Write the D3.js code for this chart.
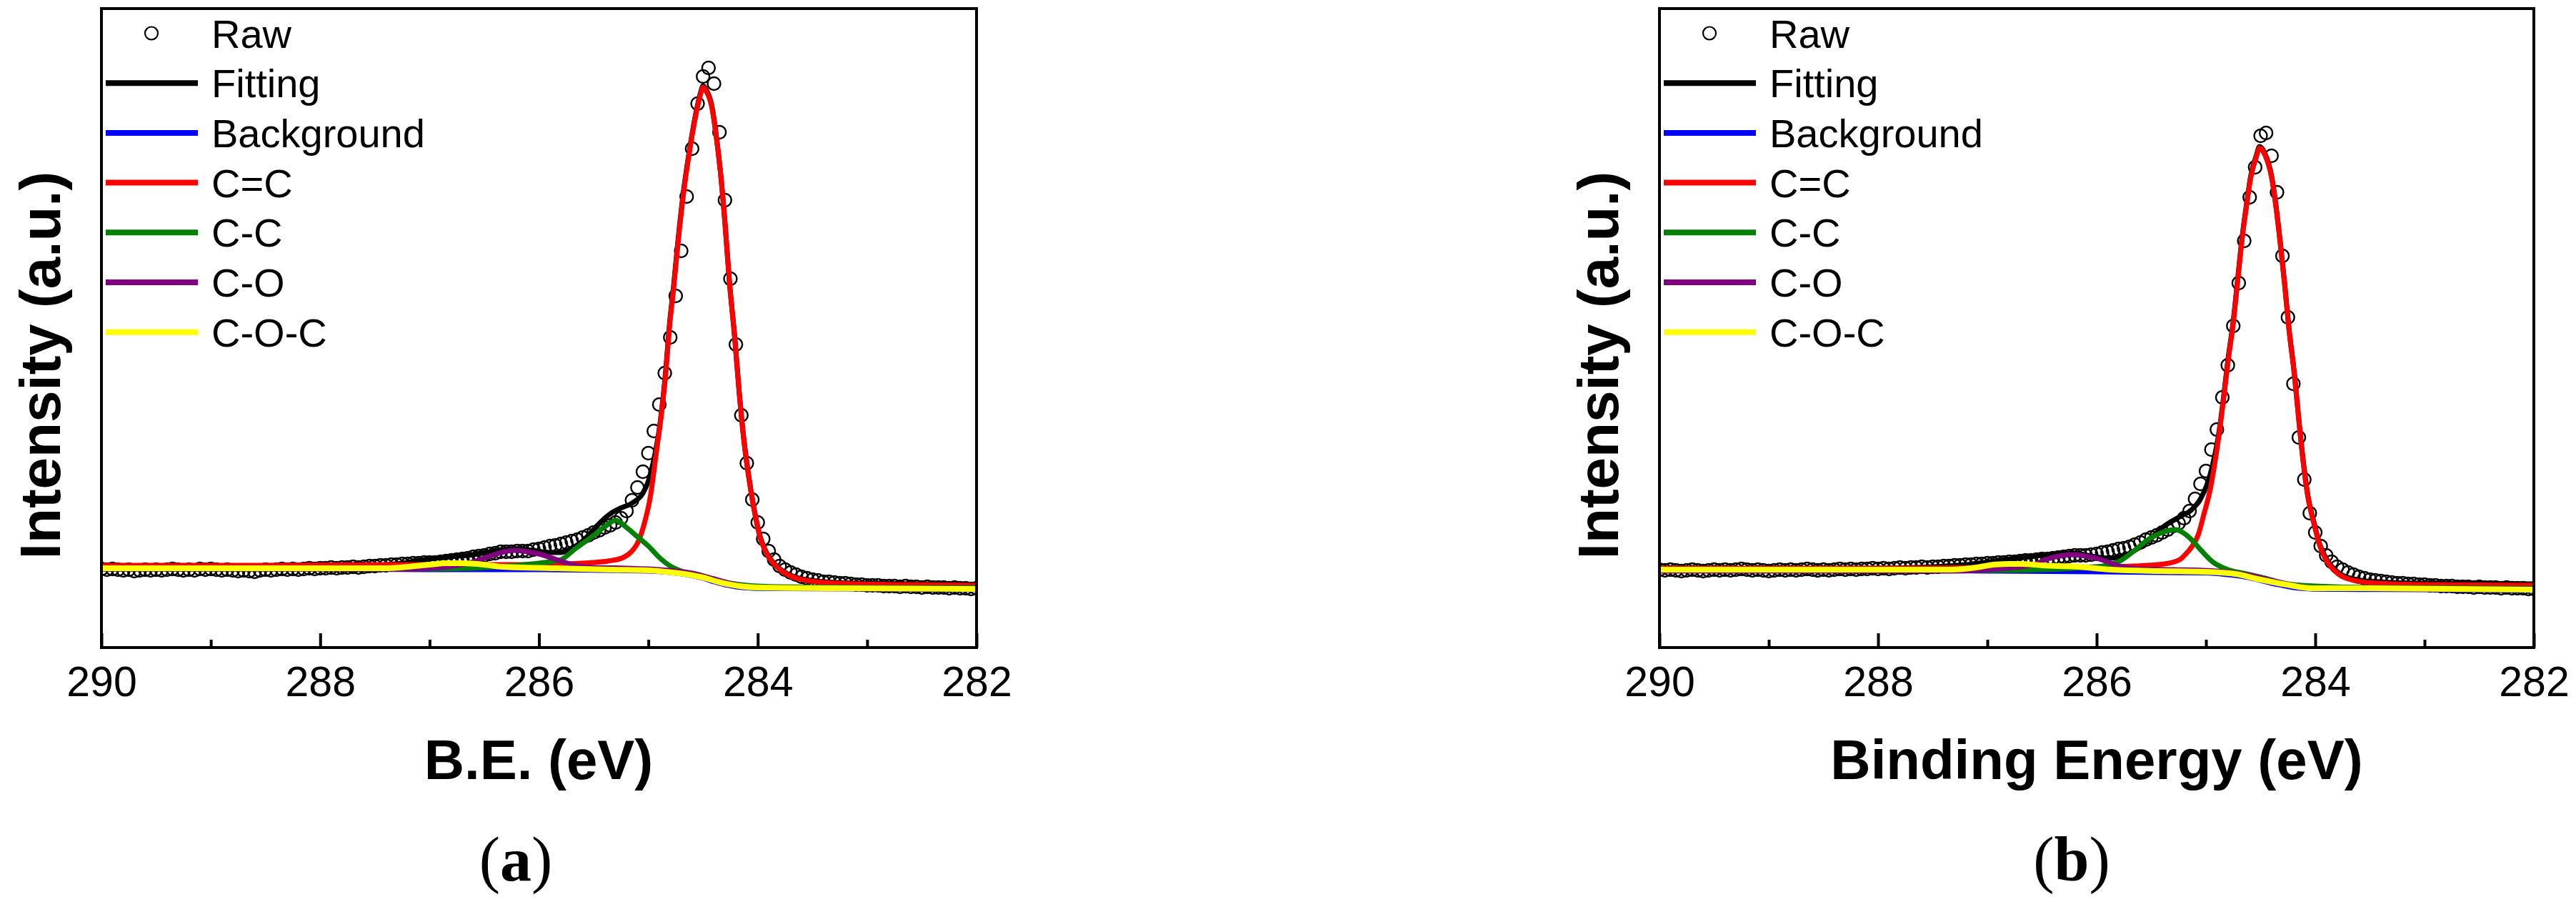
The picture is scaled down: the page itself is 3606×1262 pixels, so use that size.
<!DOCTYPE html>
<html><head><meta charset="utf-8">
<script src="https://cdn.jsdelivr.net/npm/d3@7"></script>
<style>html,body{margin:0;padding:0;background:#fff}svg{display:block}</style>
</head><body>
<svg id="chart" width="3606" height="1262"></svg>
<script>
// ---------------- DATA ----------------
const xTickValues = [290, 288, 286, 284, 282];
const xMinorTickValues = [289, 287, 285, 283];
const legendLabels = ["Raw", "Fitting", "Background", "C=C", "C-C", "C-O", "C-O-C"];
const seriesColors = ["#000000", "#000000", "#0000FF", "#FF0000", "#008000", "#800080", "#FFFF00"];
const panelTitles = ["B.E. (eV)", "Binding Energy (eV)"];
const panelLetters = ["a", "b"];
const yTitle = "Intensity (a.u.)";

// raw spectra: binding energy from 290 eV down to 282 eV, 0.05 eV step
const rawStartBE = 290, rawStepBE = 0.05;
const rawA = [110,109,110,109,108,109,107,108,109,108,109,108,109,110,109,108,109,108,110,109,110,109,108,109,108,107,108,107,106,108,109,108,109,110,109,110,109,110,111,110,111,
111,112,111,112,112,113,112,113,114,114,115,115,116,116,117,117,118,118,119,119,119,120,121,122,123,124,125,127,128,129,131,132,
134,134,134,135,135,135,137,138,140,142,143,145,147,149,151,154,157,161,164,168,171,175,181,191,206,224,246,272,303,340,384,434,492,555,631,698,761,799,811,789,721,626,516,424,325,258,207,175,152,135,123,114,
109,105,102,99,97,95,94,92,92,91,90,90,89,88,88,87,87,87,86,86,86,85,86,85,85,84,85,84,84,84,83,84,83,83,82,83];
const rawB = [109,108,109,108,107,108,109,108,107,108,109,108,109,108,109,110,109,108,109,108,107,108,109,108,109,108,109,110,109,108,109,108,109,110,109,110,109,110,110,111,110,
111,110,111,112,111,112,112,113,112,113,113,114,114,115,115,116,116,117,117,118,118,119,119,120,120,121,122,122,123,124,124,125,
126,127,128,129,129,129,130,131,133,134,136,138,139,141,144,147,151,154,157,161,165,170,174,181,191,208,229,247,277,305,350,395,450,510,569,630,672,716,720,688,637,548,462,369,294,235,188,161,142,129,120,113,
109,105,102,99,97,95,94,93,92,91,90,90,89,89,88,88,87,87,86,86,86,85,85,85,84,85,84,84,84,83,84,83,83,83,82,82];

// panel (a) fitted curves: [binding energy, intensity a.u.]
const fitA = [[290,112],[289,112],[288,113],[287.5,115],[287.2,119],[287.0,124],[286.8,127],[286.6,130],[286.4,135],[286.2,138],[286.05,136],[285.9,133],[285.8,133],[285.7,139],[285.6,149],[285.5,165],[285.44,175],[285.35,187],[285.27,194],[285.14,203],[285.05,216],[285.0,233],[284.95,263],[284.9,306],[284.88,330],[284.84,390],[284.81,447],[284.77,505],[284.73,568],[284.68,637],[284.62,700],[284.56,752],[284.52,778],[284.5,786],[284.47,780],[284.42,758],[284.38,717],[284.34,664],[284.3,595],[284.26,514],[284.21,433],[284.17,358],[284.13,295],[284.08,237],[284.03,191],[283.98,156],[283.91,130],[283.82,113],[283.7,101],[283.56,95],[283.28,91],[282.72,89],[282,88]];
const bgA = [[290,110],[288,110],[287,109],[286,109],[285.4,108],[285.0,107],[284.8,105],[284.65,102],[284.5,97],[284.4,92],[284.3,88],[284.2,85],[284.05,83],[283.8,82.5],[283,82],[282,81]];
const ccDoubleA = [[290,115],[288.5,115],[287.4,116],[286.35,116],[285.79,117],[285.51,119],[285.37,121],[285.23,126],[285.15,135],[285.09,149],[285.04,172],[284.98,213],[284.93,270],[284.88,328],[284.84,386],[284.81,444],[284.77,502],[284.73,565],[284.68,634],[284.62,698],[284.56,750],[284.52,776],[284.5,784],[284.47,778],[284.42,756],[284.38,715],[284.34,663],[284.3,594],[284.26,513],[284.21,432],[284.17,357],[284.13,294],[284.08,236],[284.03,190],[283.98,155],[283.91,129],[283.82,112],[283.7,100],[283.56,94],[283.28,90],[282.72,88],[282,87]];
const ccSingleA = [[290,110],[287,110],[286.6,111],[286.3,114],[286.0,118],[285.8,123],[285.67,138],[285.5,157],[285.4,169],[285.3,178],[285.2,168],[285.1,155],[285.0,142],[284.9,126],[284.8,114],[284.7,107],[284.55,102],[284.4,95],[284.25,90],[284.1,87],[283.8,85],[283,84],[282,84]];
const coA = [[290,110],[287.4,110],[287.17,110],[286.9,112],[286.75,115],[286.62,119],[286.45,128],[286.32,134],[286.22,136],[286.1,134],[286.0,131],[285.84,123],[285.67,115],[285.5,112],[285.2,111],[284.9,109],[284.6,104],[284.4,96],[284.2,88],[284.0,84],[283,83],[282,83]];
const cocA = [[290,111],[289,111],[288,111],[287.42,111],[287.2,113],[287.0,116],[286.85,118],[286.7,118],[286.5,116],[286.34,113],[285.84,111],[285.34,109],[285.0,108],[284.84,106],[284.67,103],[284.5,98],[284.34,91],[284.17,86],[284.0,84],[283.34,83],[282,82]];

// panel (b) fitted curves
const fitB = [[290,110],[289,110],[288,111],[287.5,113],[287.2,116],[286.88,122],[286.55,128],[286.36,131],[286.21,132],[286.05,128],[285.88,125],[285.71,131],[285.6,141],[285.52,151],[285.38,170],[285.24,183],[285.13,193],[285.05,208],[284.99,228],[284.94,255],[284.88,302],[284.84,349],[284.8,401],[284.75,457],[284.71,515],[284.67,573],[284.63,619],[284.59,660],[284.54,688],[284.51,701],[284.46,691],[284.4,660],[284.36,619],[284.32,567],[284.28,509],[284.24,446],[284.19,382],[284.15,319],[284.11,261],[284.07,215],[284.01,174],[283.96,145],[283.89,122],[283.79,105],[283.65,96],[283.43,92],[283.01,90],[282,89]];
const bgB = [[290,108],[288,108],[287,107],[286,106],[285.4,105],[285.0,104.5],[284.8,102],[284.65,99],[284.5,94],[284.4,90],[284.3,87],[284.2,84],[284.05,82],[283.8,81.5],[283,81],[282,80]];
const ccDoubleB = [[290,111],[288,111],[286.36,112],[285.94,113],[285.66,114],[285.38,117],[285.24,123],[285.19,130],[285.13,141],[285.07,158],[285.02,186],[284.96,222],[284.92,257],[284.88,298],[284.84,346],[284.8,398],[284.75,455],[284.71,513],[284.67,571],[284.63,617],[284.59,658],[284.54,686],[284.51,699],[284.46,689],[284.4,658],[284.36,617],[284.32,565],[284.28,507],[284.24,444],[284.19,380],[284.15,317],[284.11,259],[284.07,213],[284.01,172],[283.96,143],[283.89,120],[283.79,103],[283.65,94],[283.43,90],[283.01,88],[282,87]];
const ccSingleB = [[290,108],[287,108],[286.5,109],[286.2,111],[285.94,114],[285.8,120],[285.66,135],[285.52,152],[285.4,161],[285.28,165],[285.16,155],[285.05,137],[284.94,120],[284.8,109],[284.63,103],[284.46,97],[284.29,90],[284.12,87],[283.5,84],[282,83]];
const coB = [[290,107],[287.3,107],[286.9,110],[286.7,113],[286.58,116],[286.45,124],[286.3,129],[286.21,130],[286.1,128],[285.98,124],[285.87,118],[285.77,113],[285.6,110],[285.3,109],[284.9,107],[284.6,101],[284.4,94],[284.2,87],[284.0,83],[283,82],[282,82]];
const cocB = [[290,109],[289,109],[288,109],[287.33,109],[287.1,112],[286.94,116],[286.8,117],[286.69,117],[286.5,115],[286.16,113],[285.87,109],[285.4,107],[285.03,106],[284.73,103],[284.53,96],[284.26,88],[284.03,83],[283.52,83],[282,81]];

// ---------------- LAYOUT ----------------
const svg = d3.select("#chart");
const plotTop = 12, plotBottom = 906;
const panels = [
  {left: 142, right: 1367, raw: rawA, curves: [fitA, bgA, ccDoubleA, ccSingleA, coA, cocA], title: panelTitles[0], letter: panelLetters[0], titleX: 754, letterX: 722},
  {left: 2323, right: 3547, raw: rawB, curves: [fitB, bgB, ccDoubleB, ccSingleB, coB, cocB], title: panelTitles[1], letter: panelLetters[1], titleX: 2935, letterX: 2900}
];
const sans = "'Liberation Sans', Arial, Helvetica, sans-serif";
const serif = "'Liberation Serif', 'Times New Roman', serif";

panels.forEach((p, pi) => {
  const x = d3.scaleLinear().domain([290, 282]).range([p.left, p.right]);
  const y = d3.scaleLinear().domain([0, 894]).range([plotBottom, plotTop]);
  const g = svg.append("g");
  const clipId = "clip" + pi;
  svg.append("clipPath").attr("id", clipId).append("rect")
    .attr("x", p.left).attr("y", plotTop).attr("width", p.right - p.left).attr("height", plotBottom - plotTop);

  const data = g.append("g").attr("clip-path", `url(#${clipId})`);
  const rawPts = p.raw.map((v, i) => [rawStartBE - i * rawStepBE, v]);
  data.selectAll("circle.raw").data(rawPts).join("circle")
    .attr("class", "raw")
    .attr("cx", d => x(d[0])).attr("cy", d => y(d[1])).attr("r", 9)
    .attr("fill", "none").attr("stroke", "#000").attr("stroke-width", 2.4);

  const line = d3.line().x(d => x(d[0])).y(d => y(d[1])).curve(d3.curveMonotoneX);
  p.curves.forEach((c, ci) => {
    data.append("path").datum(c).attr("d", line)
      .attr("fill", "none").attr("stroke", seriesColors[ci + 1])
      .attr("stroke-width", ci === 5 ? 8 : 7).attr("stroke-linejoin", "round");
  });

  // frame
  g.append("rect").attr("x", p.left).attr("y", plotTop)
    .attr("width", p.right - p.left).attr("height", plotBottom - plotTop)
    .attr("fill", "none").attr("stroke", "#000").attr("stroke-width", 4);

  // bottom axis ticks (inward) and labels
  const axis = g.append("g").attr("transform", `translate(0,${plotBottom})`)
    .call(d3.axisBottom(x).tickValues(xTickValues).tickSize(-20).tickFormat(d3.format("d")));
  axis.select(".domain").remove();
  axis.selectAll(".tick line").attr("stroke", "#000").attr("stroke-width", 4);
  axis.selectAll(".tick text").attr("y", 68).attr("dy", 0)
    .attr("font-family", sans).attr("font-size", 59).attr("fill", "#000");
  const minor = g.append("g").attr("transform", `translate(0,${plotBottom})`)
    .call(d3.axisBottom(x).tickValues(xMinorTickValues).tickSize(-11).tickFormat(""));
  minor.select(".domain").remove();
  minor.selectAll(".tick line").attr("stroke", "#000").attr("stroke-width", 4);

  // axis titles
  g.append("text").attr("x", p.titleX).attr("y", 1090).attr("text-anchor", "middle")
    .attr("font-family", sans).attr("font-weight", "bold").attr("font-size", 78).text(p.title);
  g.append("text").attr("transform", `translate(${p.left - 58},511) rotate(-90)`)
    .attr("text-anchor", "middle").attr("font-family", sans).attr("font-weight", "bold")
    .attr("font-size", 80).text(yTitle);

  // panel letter
  const lt = g.append("text").attr("x", p.letterX).attr("y", 1232).attr("text-anchor", "middle")
    .attr("font-family", serif).attr("font-size", 88);
  lt.append("tspan").text("(");
  lt.append("tspan").attr("font-weight", "bold").text(p.letter);
  lt.append("tspan").text(")");

  // legend
  const leg = g.append("g");
  legendLabels.forEach((lab, i) => {
    const ry = 46.5 + i * 69.7;
    if (i === 0) {
      leg.append("circle").attr("cx", p.left + 70).attr("cy", ry).attr("r", 9)
        .attr("fill", "none").attr("stroke", "#000").attr("stroke-width", 2.2);
    } else {
      leg.append("line").attr("x1", p.left + 6).attr("x2", p.left + 135)
        .attr("y1", ry).attr("y2", ry).attr("stroke", seriesColors[i]).attr("stroke-width", 8);
    }
    leg.append("text").attr("x", p.left + 154).attr("y", ry + 20)
      .attr("font-family", sans).attr("font-size", 56).attr("fill", "#000").text(lab);
  });
});
</script>
</body></html>
